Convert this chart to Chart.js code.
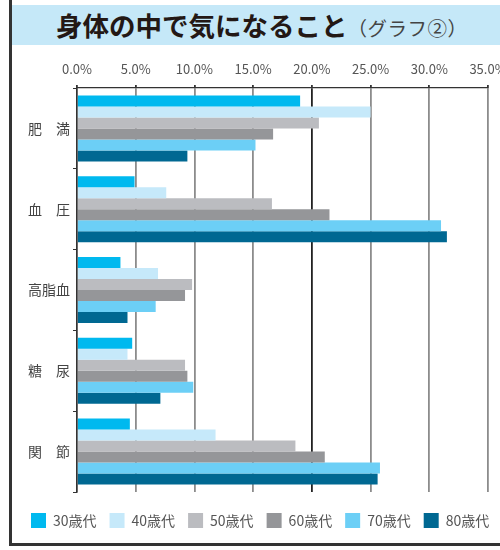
<!DOCTYPE html>
<html>
<head>
<meta charset="utf-8">
<script src="https://cdn.jsdelivr.net/npm/chart.js"></script>
<style>
  body { margin: 0; background: #fff; font-family: "Noto Sans CJK JP", sans-serif; }
  #frame { position: absolute; left: 9px; top: -10px; width: 600px; height: 553px;
           border-left: 3px solid #333; border-bottom: 3px solid #333; }
  #band { position: absolute; left: 12px; top: 5px; width: 488px; height: 40px; background: #c5e8f8; }
  #title { position: absolute; left: 56px; top: 5px; line-height: 40px; font-size: 26.5px;
           font-weight: bold; color: #231815; white-space: nowrap; }
  #title span { font-size: 19.5px; font-weight: normal; color: #444; letter-spacing: 0.5px; }
  #myChart { position: absolute; left: 0; top: 0; }
</style>
</head>
<body>
<div id="frame"></div>
<div id="band"></div>
<div id="title">身体の中で気になること<span>（グラフ②）</span></div>
<canvas id="myChart" width="500" height="550"></canvas>
<script>
const categories = ["肥　満", "血　圧", "高脂血", "糖　尿", "関　節"];
const ageGroups = ["30歳代", "40歳代", "50歳代", "60歳代", "70歳代", "80歳代"];
const colors = ["#00b9ef", "#c6e9fa", "#bbbcc0", "#959699", "#6ccff6", "#006892"];

// percent values
const v30 = [19.0, 4.9, 3.7, 4.7, 4.5];
const v40 = [25.0, 7.6, 6.9, 4.3, 11.8];
const v50 = [20.6, 16.6, 9.8, 9.2, 18.6];
const v60 = [16.7, 21.5, 9.2, 9.4, 21.1];
const v70 = [15.2, 31.0, 6.7, 9.9, 25.8];
const v80 = [9.4, 31.5, 4.3, 7.1, 25.6];
const series = [v30, v40, v50, v60, v70, v80];

Chart.defaults.font.family = '"Noto Sans CJK JP", sans-serif';

const data = {
  labels: categories,
  datasets: ageGroups.map((name, i) => ({
    label: name,
    data: series[i],
    backgroundColor: colors[i],
    borderWidth: 0,
    categoryPercentage: 0.817,
    barPercentage: 1,
  })),
};

// move the legend row so it starts under the frame like the original
const legendShift = {
  id: "legendShift",
  afterLayout(chart) {
    const lg = chart.legend;
    if (!lg) return;
    lg.left = 31 - lg.options.labels.padding;
    lg.right = 560;
  },
};

const config = {
  type: "bar",
  data: data,
  plugins: [legendShift],
  options: {
    indexAxis: "y",
    responsive: false,
    animation: false,
    layout: { padding: { left: 0, right: 12, top: 60, bottom: 12 } },
    scales: {
      x: {
        position: "top",
        min: 0,
        max: 35,
        ticks: {
          stepSize: 5,
          padding: 8,
          color: "#555",
          font: { size: 13 },
          callback: (v) => v.toFixed(1) + "%",
        },
        grid: {
          color: (c) => (c.tick && c.tick.value === 20 ? "#222" : "#8c8c8c"),
          tickColor: "#333",
          lineWidth: 1.8,
          tickLength: 3,
        },
        border: { color: "#333", width: 1.2 },
        afterFit: (s) => { s.height = 28; s.paddingLeft = 0; s.paddingRight = 0; },
      },
      x2: {
        position: "bottom",
        display: true,
        ticks: { display: false },
        grid: { display: false },
        border: { display: false },
        afterFit: (s) => { s.height = 8; s.paddingLeft = 0; s.paddingRight = 0; },
      },
      y: {
        ticks: { color: "#444", font: { size: 14 }, padding: 3 },
        grid: { drawOnChartArea: false, color: "#333", tickLength: 4 },
        border: { color: "#333", width: 1.5 },
        afterFit: (s) => { s.width = 77; },
      },
    },
    plugins: {
      legend: {
        position: "bottom",
        align: "start",
        labels: {
          boxWidth: 15,
          boxHeight: 15,
          padding: 13,
          color: "#555",
          font: { size: 14 },
        },
      },
      tooltip: { enabled: false },
    },
  },
};

const myChart = new Chart(document.getElementById("myChart"), config);
</script>
</body>
</html>
